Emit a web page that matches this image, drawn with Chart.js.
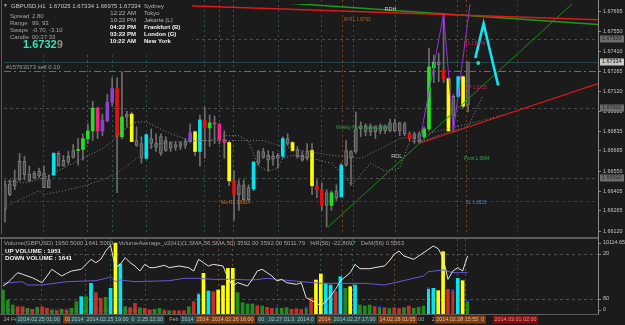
<!DOCTYPE html>
<html>
<head>
<meta charset="utf-8">
<title>GBPUSD,H1</title>
<script src="https://cdn.jsdelivr.net/npm/chart.js@4.4.1/dist/chart.umd.min.js"></script>
<style>
  html, body { margin: 0; padding: 0; background: #1b1b1b; }
  body { width: 625px; height: 325px; position: relative; overflow: hidden; }
  #priceChart { position: absolute; left: 0; top: 0; }
  #volChart { position: absolute; left: 0; top: 237px; }
</style>
</head>
<body>
<canvas id="priceChart" width="625" height="237"></canvas>
<canvas id="volChart" width="625" height="88"></canvas>
<script>
/* ======================
   PRICE DATA (GBPUSD H1)
====================== */
const openP = [1.66275,1.66381,1.66445,1.66487,1.66621,1.66529,1.66501,1.66515,1.66536,1.66431,
  1.66522,1.66586,1.66586,1.66614,1.66649,1.66698,1.66705,1.66783,1.66839,1.67002,
  1.66839,1.66910,1.67044,1.67143,1.66797,1.66938,1.66959,1.66769,1.66748,1.66642,
  1.66783,1.66720,1.66797,1.66698,1.66748,1.66720,1.66748,1.66734,1.66762,1.66691,
  1.66691,1.66917,1.66860,1.66896,1.66889,1.66776,1.66755,1.66480,1.66381,1.66452,
  1.66346,1.66423,1.66607,1.66691,1.66663,1.66635,1.66642,1.66656,1.66783,1.66755,
  1.66705,1.66663,1.66642,1.66698,1.66445,1.66416,1.66304,1.66304,1.66360,1.66367,
  1.66593,1.66691,1.66691,1.66853,1.66875,1.66832,1.66868,1.66839,1.66868,1.66839,
  1.66896,1.66839,1.66889,1.66818,1.66783,1.66818,1.66797,1.66853,1.67291,1.67333,
  1.67277,1.67213,1.66945,1.67086,1.67016,1.67025];
const highP = [1.66480,1.66487,1.66557,1.66677,1.66656,1.66586,1.66550,1.66572,1.66586,1.66522,
  1.66684,1.66691,1.66663,1.66691,1.66741,1.66783,1.66818,1.66889,1.67051,1.67009,
  1.66959,1.67100,1.67220,1.67220,1.67262,1.66980,1.66973,1.66868,1.66797,1.66818,
  1.66853,1.66818,1.66818,1.66797,1.66762,1.66762,1.66762,1.66783,1.66889,1.66839,
  1.66952,1.67009,1.66952,1.66945,1.66889,1.66839,1.66762,1.66550,1.66487,1.66487,
  1.66452,1.66621,1.66698,1.66713,1.66698,1.66691,1.66677,1.66797,1.66818,1.66762,
  1.66727,1.66691,1.66748,1.66748,1.66487,1.66466,1.66416,1.66409,1.66452,1.66607,
  1.66769,1.66698,1.66973,1.66903,1.66889,1.66889,1.66875,1.66889,1.66882,1.66924,
  1.66924,1.66903,1.66903,1.66832,1.66832,1.66832,1.66868,1.67432,1.67382,1.67396,
  1.67678,1.67220,1.67100,1.67227,1.67234,1.67334];
const lowP = [1.66184,1.66374,1.66416,1.66480,1.66487,1.66473,1.66494,1.66501,1.66431,1.66431,
  1.66515,1.66586,1.66586,1.66600,1.66642,1.66593,1.66628,1.66748,1.66769,1.66783,
  1.66804,1.66903,1.67016,1.66395,1.66783,1.66868,1.66762,1.66727,1.66607,1.66635,
  1.66713,1.66691,1.66663,1.66691,1.66691,1.66698,1.66705,1.66713,1.66755,1.66663,
  1.66586,1.66642,1.66727,1.66748,1.66748,1.66642,1.66445,1.66198,1.66268,1.66339,
  1.66339,1.66409,1.66593,1.66642,1.66550,1.66593,1.66572,1.66642,1.66734,1.66691,
  1.66642,1.66621,1.66628,1.66381,1.66360,1.66268,1.66149,1.66268,1.66339,1.66360,
  1.66586,1.66452,1.66677,1.66797,1.66804,1.66804,1.66783,1.66818,1.66818,1.66832,
  1.66832,1.66804,1.66804,1.66769,1.66748,1.66748,1.66783,1.66839,1.67185,1.67192,
  1.67185,1.66832,1.66832,1.67079,1.67002,1.66975];
const closeP = [1.66452,1.66459,1.66487,1.66621,1.66522,1.66480,1.66536,1.66550,1.66431,1.66487,
  1.66677,1.66677,1.66628,1.66656,1.66698,1.66705,1.66783,1.66839,1.67002,1.66839,
  1.66917,1.67044,1.67143,1.66797,1.66938,1.66959,1.66762,1.66734,1.66642,1.66811,
  1.66748,1.66748,1.66677,1.66769,1.66713,1.66741,1.66727,1.66762,1.66825,1.66832,
  1.66917,1.66860,1.66896,1.66889,1.66776,1.66755,1.66480,1.66381,1.66452,1.66346,
  1.66431,1.66614,1.66691,1.66649,1.66628,1.66656,1.66663,1.66783,1.66748,1.66698,
  1.66656,1.66628,1.66691,1.66445,1.66416,1.66304,1.66395,1.66395,1.66409,1.66593,
  1.66698,1.66642,1.66853,1.66875,1.66832,1.66868,1.66832,1.66875,1.66839,1.66896,
  1.66839,1.66896,1.66818,1.66783,1.66818,1.66762,1.66853,1.67298,1.67333,1.67312,
  1.67213,1.66839,1.67086,1.67227,1.67227,1.67334];
// n plain, c cyan, y yellow, g green, m magenta, p purple, r red
const candleTone = ["n","n","n","n","n","n","n","n","n","n",
  "c","n","n","n","n","g","g","g","g","m",
  "p","p","p","r","g","n","y","n","n","c",
  "n","n","n","n","n","n","n","n","p","y",
  "c","r","g","m","m","m","y","r","n","n",
  "n","c","n","n","n","n","n","c","n","y",
  "n","n","n","y","r","r","n","g","n","c",
  "n","n","n","n","n","n","n","n","n","n",
  "n","n","n","r","n","n","g","g","g","n",
  "r","y","n","c","y","n"];

const priceTicks = [1.66120,1.66265,1.66405,1.66550,1.66695,1.66835,1.66980,1.67120,1.67265,1.67410,1.67550,1.67695];
const roundLevels = [1.67500, 1.67000, 1.66500];
const bidPrice = 1.67334;
const sellOrderPrice = 1.67270;
const monthlyR1 = 1.66339;

// moving averages (bar index, price)
const fastMaX = [0,4,8,14,20,22,24,27,29,31,34,38,42,45,48,50,52,54,56,57,59,63,67,70,71,75,78,81,83,86,91,95,98];
const fastMaY = [1.66480,1.66466,1.66501,1.66607,1.66713,1.66762,1.66839,1.66903,1.66903,1.66868,1.66818,1.66769,1.66769,1.66804,1.66804,1.66762,1.66586,1.66550,1.66572,1.66642,1.66663,1.66642,1.66607,1.66501,1.66445,1.66607,1.66550,1.66572,1.66762,1.66769,1.66832,1.66868,1.67086];
const slowMaX = [1,7,8,13,17,20,23,27,31,40,53,57,61,67,73,78,81,85,95,103];
const slowMaY = [1.66311,1.66409,1.66381,1.66416,1.66452,1.66487,1.66536,1.66642,1.66748,1.66769,1.66769,1.66727,1.66698,1.66663,1.66642,1.66727,1.66783,1.66804,1.66889,1.66959];

// drawn objects (bar index, price)
const redTopX = [0, 121.7], redTopY = [1.67781, 1.67636];
const greenTopX = [52, 121.7], greenTopY = [1.67770, 1.67601];
const greenRiseX = [66.3, 117], greenRiseY = [1.66149, 1.67770];
const redRiseX = [84.9, 121.7], redRiseY = [1.66748, 1.67178];
const zigzagX = [85, 90, 92, 96], zigzagY = [1.66748, 1.67678, 1.66832, 1.67903];
const projX = [96.5, 98.2, 101.2], projY = [1.67361, 1.67608, 1.67164];
const projDotX = [97.1], projDotY = [1.67326];

/* ======================
   VOLUME PANEL DATA
====================== */
const volumes = [3420,1995,1283,1045,1045,808,665,950,1045,808,
  570,475,665,570,808,1758,2470,2470,4370,3040,
  2233,2375,3658,10114,7125,1045,903,1520,903,808,
  570,665,808,570,475,475,475,475,1045,1758,
  3040,5795,3278,3183,3420,4038,6508,6508,3040,1615,
  1425,1425,1188,1140,950,808,1045,808,903,665,
  760,665,1045,2328,4845,5700,4370,4133,3183,5320,
  3658,3895,4133,1283,1140,1283,1045,1140,903,808,
  903,808,903,1140,808,950,1140,3800,3658,3325,
  8883,3515,3515,5083,4750,1951];
const volumeTone = ["g","g","g","r","r","g","r","g","r","r",
  "g","r","g","r","g","g","c","g","c","r",
  "r","g","c","y","c","g","r","r","g","r",
  "r","g","g","r","g","r","r","r","g","r",
  "c","y","c","r","y","y","y","y","g","g",
  "g","g","r","g","r","r","g","g","g","r",
  "r","r","g","r","y","y","c","c","r","c",
  "g","y","c","g","g","g","r","g","r","g",
  "r","r","g","r","g","g","g","c","c","y",
  "y","r","r","c","y","g"];
const cappedBars = [40, 56, 62, 77, 87, 92, 95];
const wprX = [0,1,3,4,6,8,10,11,12,13,14,16,17,18,19,20,21,22,23,24,25,26,27,28,29,30,31,33,34,36,38,39,40,41,42,43,45,46,47,48,50,51,52,53,55,56,57,58,60,61,62,64,65,66,67,68,69,71,72,73,75,76,78,79,80,81,82,84,85,87,88,89,90,91,92,93,94,95];
const wprY = [-62.7,-58.2,-44.9,-47.1,-51.6,-58.2,-40.4,-44.9,-49.3,-45.8,-42.7,-40.4,-33.8,-27.1,-31.6,-27.1,-16.0,-8.4,-38.2,-33.8,-24.9,-31.6,-36.0,-42.7,-33.8,-38.2,-38.2,-35.1,-38.2,-36.0,-38.2,-42.7,-27.1,-31.6,-36.0,-33.8,-36.0,-51.6,-62.7,-58.2,-62.7,-53.8,-42.7,-40.4,-49.3,-56.0,-53.8,-58.2,-60.4,-58.2,-78.2,-84.9,-89.3,-82.7,-76.0,-67.1,-56.0,-44.9,-33.8,-39.6,-39.6,-38.2,-36.0,-29.3,-20.4,-16.0,-22.7,-27.1,-22.7,-13.8,-9.3,-12.9,-24.9,-53.8,-42.7,-38.2,-42.7,-22.8];
const volAvgX = [0,4,5,8,13,19,21,22,23,24,27,34,37,40,43,47,51,54,56,61,65,74,78,81,86,87,90,92,95];
const volAvgY = [4370,4608,4133,4133,4608,4750,5083,5320,4608,4845,4608,4750,5083,5083,4940,4940,4845,5083,4940,4608,4370,4370,4133,4608,5415,6033,6270,5890,5890];

// period separators (bar index)
const sessionTeal = [7.8, 21.9, 29, 40.9, 56, 64.8, 71.4];
const sessionOrange = [16.8, 44, 46.8, 69.1, 80, 92.8, 94.5];
const sessionRed = [105.1];

const timeLabels = [
  { at: -0.2, text: "24 Feb", kind: "plain" },
  { at: 2.7, text: "2014.02.25 01:00", kind: "teal" },
  { at: 12.3, text: "01", kind: "orange" },
  { at: 13.7, text: "2014  2014.02.25 19:00  0  2.25 22:30", kind: "teal" },
  { at: 33.7, text: "Feb", kind: "plain" },
  { at: 36.2, text: "2014", kind: "teal" },
  { at: 39.3, text: "2014  2014.02.26 16:00", kind: "orange" },
  { at: 51.9, text: "00  .02.27 01:3  2014.0", kind: "teal" },
  { at: 64.2, text: "2014", kind: "orange" },
  { at: 67.3, text: "2014.02.27 17:00", kind: "teal" },
  { at: 76.7, text: "14.02.28 01:05", kind: "orange" },
  { at: 84.3, text: ":00", kind: "plain" },
  { at: 87.4, text: "2", kind: "plain" },
  { at: 88.3, text: "2014.02.28 15:55  0", kind: "orange" },
  { at: 100.2, text: "2014.03.01 02:00", kind: "red" }
];

const chartNotes = [
  { at: 79.1, price: 1.67707, text: "RDH", color: "#c8c8c8", align: "center", size: 5.5 },
  { at: 69.5, price: 1.67636, text: "W R1 1.6763", color: "#b8602a", align: "left", size: 4.6 },
  { at: 94.2, price: 1.67467, text: "R1 1.6746", color: "#d8205a", align: "left", size: 4.6 },
  { at: 94.5, price: 1.67150, text: "PP 1.6715", color: "#d8205a", align: "left", size: 4.6 },
  { at: 67.9, price: 1.66860, text: "Weekly Pivot Point 1.6686", color: "#2ea050", align: "left", size: 4.6 },
  { at: 80.4, price: 1.66656, text: "RDL", color: "#c8c8c8", align: "center", size: 5.5 },
  { at: 94.2, price: 1.66642, text: "Pivot 1.6664", color: "#2ea858", align: "left", size: 4.6 },
  { at: 94.5, price: 1.66325, text: "S1 1.6633", color: "#4a86c8", align: "left", size: 4.6 },
  { at: 44.4, price: 1.66325, text: "Mo R1 1.6634", color: "#d8701e", align: "left", size: 4.6 }
];

/* ======================
   STYLE
====================== */
const FONT = "'Liberation Sans', Arial, sans-serif";
Chart.defaults.font.family = FONT;
Chart.defaults.font.size = 6;

const BG = "#1b1b1b";
const toneFill = { n: "#4e4e4e", c: "#00e6f0", y: "#ffff00", g: "#1ee41e", m: "#f0228a", p: "#8844cc", r: "#e01212" };
const volFill = { g: "#1f8a1f", r: "#c4302a", c: "#00e6f0", y: "#ffff00" };
const boxStyle = {
  teal: { bg: "#2a4a4c", fg: "#a0c0c0" },
  orange: { bg: "#7c3e18", fg: "#e8b890" },
  red: { bg: "#820e0e", fg: "#e89494" },
  plain: { bg: null, fg: "#a8a8a8" }
};

const xMin = -0.2, xMax = 121.68;
const priceMin = 1.66106, priceMax = 1.67749;
const volMax = 10690;

const font = (size, bold) => (bold ? "bold " : "") + size + "px " + FONT;
const pts = (xs, ys) => xs.map((x, k) => ({ x: x, y: ys[k] }));
const barIdx = openP.map((_, i) => i);

function text(ctx, str, x, y, color, f, align) {
  ctx.font = f;
  ctx.fillStyle = color;
  ctx.textAlign = align || "left";
  ctx.textBaseline = "middle";
  ctx.fillText(str, x, y);
}

function vlines(ctx, xs, list, color, top, bottom) {
  ctx.strokeStyle = color;
  ctx.setLineDash([2, 3]);
  list.forEach(v => {
    const px = Math.round(xs.getPixelForValue(v)) + 0.5;
    ctx.beginPath(); ctx.moveTo(px, top); ctx.lineTo(px, bottom); ctx.stroke();
  });
}

/* ======================
   PRICE CHART DECOR
====================== */
const priceDecor = {
  id: "priceDecor",
  beforeDatasetsDraw(chart) {
    const { ctx, chartArea: a, scales: { x, y } } = chart;
    ctx.save();
    ctx.lineWidth = 1;
    vlines(ctx, x, sessionTeal, "#2c5052", 0, a.bottom);
    vlines(ctx, x, sessionOrange, "#7a4422", 0, a.bottom);
    vlines(ctx, x, sessionRed, "#801c1c", 0, a.bottom);

    const hline = (v, color, dash) => {
      const py = Math.round(y.getPixelForValue(v)) + 0.5;
      ctx.strokeStyle = color; ctx.setLineDash(dash);
      ctx.beginPath(); ctx.moveTo(a.left, py); ctx.lineTo(a.right, py); ctx.stroke();
    };
    roundLevels.forEach(v => hline(v, "#4a4a4a", [3, 3]));
    hline(monthlyR1, "#7a2222", [3, 3]);
    hline(sellOrderPrice, "#6a6a6a", [7, 3, 2, 3]);
    hline(bidPrice, "#26474a", []);

    ctx.setLineDash([]);
    ctx.strokeStyle = "#5a5a5a";
    ctx.beginPath(); ctx.moveTo(1.5, 0); ctx.lineTo(1.5, a.bottom + 1); ctx.stroke();
    ctx.restore();
  },
  afterDatasetsDraw(chart) {
    const { ctx, scales: { x, y } } = chart;
    ctx.save();
    chartNotes.forEach(n => {
      text(ctx, n.text, x.getPixelForValue(n.at), y.getPixelForValue(n.price), n.color, font(n.size), n.align);
    });

    // info panel
    ctx.fillStyle = BG;
    ctx.fillRect(2, 0, 190, 52);
    text(ctx, "\u25BC", 3, 6, "#b0b0b0", font(5));
    text(ctx, "GBPUSD,H1  1.67025 1.67334 1.66975 1.67334", 11, 6, "#c8c8c8", font(6));
    const info = [["Spread", "2.80"], ["Range", "99, 93"], ["Swaps", "-0.70, -3.10"], ["Candle", "00:37:33"]];
    info.forEach((r, k) => {
      text(ctx, r[0], 10, 16 + k * 7, "#a4a4a4", font(6));
      text(ctx, r[1], 32, 16 + k * 7, "#a4a4a4", font(6));
    });
    ctx.font = font(11, true);
    const w = ctx.measureText("1.6732").width;
    text(ctx, "1.6732", 23, 45, "#2fe6b2", font(11, true));
    text(ctx, "9", 23 + w, 45, "#8c8c8c", font(11, true));

    const zones = [
      ["", "Sydney", false], ["12:22 AM", "Tokyo", false], ["10:22 PM", "Jakarta (L)", false],
      ["04:22 PM", "Frankfurt (B)", true], ["03:22 PM", "London (G)", true], ["10:22 AM", "New York", true]
    ];
    zones.forEach((z, k) => {
      const yy = 6.5 + k * 6.9;
      const col = z[2] ? "#f2f2f2" : "#b4b4b4";
      if (z[0]) text(ctx, z[0], 136, yy, col, font(6, z[2]), "right");
      text(ctx, z[1], 144, yy, col, font(6, z[2]));
    });

    text(ctx, "#15763073 sell 0.10", 6, 67.5, "#9c9c9c", font(6));
    ctx.restore();
  },
  afterDraw(chart) {
    const { ctx, chartArea: a, scales: { y } } = chart;
    ctx.save();
    ctx.strokeStyle = "#8a8a8a";
    ctx.beginPath(); ctx.moveTo(a.right + 0.5, 0); ctx.lineTo(a.right + 0.5, 237); ctx.stroke();
    const tag = (v, bg, fg) => {
      const py = Math.round(y.getPixelForValue(v));
      ctx.fillStyle = bg;
      ctx.fillRect(a.right + 2, py - 3.5, 24, 7);
      text(ctx, v.toFixed(5), a.right + 4, py, fg, font(5.4));
    };
    roundLevels.forEach(v => tag(v, "#6c6c6c", "#262626"));
    tag(bidPrice, "#c8c8c8", "#111111");
    ctx.restore();
  }
};

new Chart(document.getElementById("priceChart"), {
  type: "bar",
  data: {
    datasets: [
      {
        label: "wicks",
        data: barIdx.map(i => ({ x: i, y: [lowP[i], highP[i]] })),
        backgroundColor: "#6e6e6e",
        barThickness: 1,
        grouped: false,
        order: 9
      },
      {
        label: "bodies",
        data: barIdx.map(i => ({ x: i, y: [openP[i], closeP[i]] })),
        backgroundColor: c => toneFill[candleTone[c.dataIndex] || "n"],
        borderColor: c => (candleTone[c.dataIndex] || "n") === "n" ? "#7e7e7e" : toneFill[candleTone[c.dataIndex]],
        borderWidth: c => (candleTone[c.dataIndex] || "n") === "n" ? 1 : 0,
        borderSkipped: false,
        barThickness: 3,
        minBarLength: 1,
        grouped: false,
        order: 8
      },
      { type: "line", label: "slow MA", data: pts(slowMaX, slowMaY), borderColor: "#7c7c7c", borderWidth: 1, borderDash: [1, 2], pointRadius: 0, order: 7 },
      { type: "line", label: "fast MA", data: pts(fastMaX, fastMaY), borderColor: "#8a8a8a", borderWidth: 1, borderDash: [1, 2], pointRadius: 0, order: 7 },
      { type: "line", label: "green top", data: pts(greenTopX, greenTopY), borderColor: "#1c9a1c", borderWidth: 1.5, pointRadius: 0, order: 3 },
      { type: "line", label: "red top", data: pts(redTopX, redTopY), borderColor: "#e01818", borderWidth: 1.5, pointRadius: 0, order: 2 },
      { type: "line", label: "green rise", data: pts(greenRiseX, greenRiseY), borderColor: "#1a8a1a", borderWidth: 1, pointRadius: 0, order: 3 },
      { type: "line", label: "red rise", data: pts(redRiseX, redRiseY), borderColor: "#e01818", borderWidth: 1.2, pointRadius: 0, order: 2 },
      { type: "line", label: "zigzag", data: pts(zigzagX, zigzagY), borderColor: "#9a2ee0", borderWidth: 1, pointRadius: 0, order: 1 },
      { type: "line", label: "projection", data: pts(projX, projY), borderColor: "#14e4f0", borderWidth: 2.6, pointRadius: 0, order: 1 },
      { type: "line", label: "dot", data: pts(projDotX, projDotY), showLine: false, pointRadius: 2, pointBackgroundColor: "#22d8a8", pointBorderWidth: 0, order: 1 }
    ]
  },
  options: {
    responsive: false,
    animation: false,
    events: [],
    layout: { padding: { left: 2, right: 0, top: 3, bottom: 1 } },
    plugins: { legend: { display: false }, tooltip: { enabled: false } },
    scales: {
      x: { type: "linear", min: xMin, max: xMax, offset: false, display: false },
      y: {
        position: "right",
        min: priceMin,
        max: priceMax,
        beginAtZero: false,
        afterBuildTicks: s => { s.ticks = priceTicks.map(v => ({ value: v })); },
        afterFit: s => { s.width = 27; s.paddingTop = 0; s.paddingBottom = 0; },
        ticks: { color: "#c4c4c4", font: { size: 5.4 }, padding: 2, autoSkip: false, callback: v => Number(v).toFixed(5) },
        grid: { drawOnChartArea: false, drawTicks: true, tickLength: 3, color: "#8a8a8a" },
        border: { color: "#8a8a8a" }
      }
    }
  },
  plugins: [priceDecor]
});

/* ======================
   VOLUME PANEL DECOR
====================== */
const volDecor = {
  id: "volDecor",
  beforeDatasetsDraw(chart) {
    const { ctx, chartArea: a, scales: { x, yr } } = chart;
    ctx.save();
    ctx.fillStyle = "#5c5c5c";
    ctx.fillRect(0, 0, a.right, 2);
    ctx.lineWidth = 1;
    vlines(ctx, x, sessionTeal, "#2c5052", 2, a.bottom);
    vlines(ctx, x, sessionOrange, "#7a4422", 2, a.bottom);
    vlines(ctx, x, sessionRed, "#801c1c", 2, a.bottom);
    ctx.strokeStyle = "#4e4e4e";
    ctx.setLineDash([3, 3]);
    [-20, -80].forEach(v => {
      const py = Math.round(yr.getPixelForValue(v)) + 0.5;
      ctx.beginPath(); ctx.moveTo(a.left, py); ctx.lineTo(a.right, py); ctx.stroke();
    });
    ctx.setLineDash([]);
    ctx.strokeStyle = "#5a5a5a";
    ctx.beginPath(); ctx.moveTo(1.5, 2); ctx.lineTo(1.5, a.bottom); ctx.stroke();
    ctx.restore();
  },
  afterDatasetsDraw(chart) {
    const { ctx, chartArea: a, scales: { x, yv, yr } } = chart;
    ctx.save();
    // frame
    ctx.strokeStyle = "#8a8a8a";
    ctx.beginPath(); ctx.moveTo(a.right + 0.5, 0); ctx.lineTo(a.right + 0.5, a.bottom + 0.5); ctx.stroke();
    ctx.strokeStyle = "#5c5c5c";
    ctx.beginPath(); ctx.moveTo(0, a.bottom + 0.5); ctx.lineTo(a.right, a.bottom + 0.5); ctx.stroke();

    // right scale labels
    const tick = (py, label) => {
      ctx.strokeStyle = "#8a8a8a";
      ctx.beginPath(); ctx.moveTo(a.right, py + 0.5); ctx.lineTo(a.right + 3, py + 0.5); ctx.stroke();
      text(ctx, label, a.right + 5, py, "#c4c4c4", font(5.4));
    };
    tick(Math.round(yv.getPixelForValue(10114.65)), "10114.65");
    tick(Math.round(yr.getPixelForValue(-20)), "20");
    tick(Math.round(yr.getPixelForValue(-80)), "80");
    tick(Math.round(yv.getPixelForValue(0)) - 4, "0");

    // headers
    text(ctx, "Volume(GBPUSD) 1950.5000 1641.5000   VolumeAverage_v2(H1)(1,SMA,56,SMA,50) 3592.00 3592.00 5011.79   %R(56) -22.8097   DeM(56) 0.5563",
      4, 6.5, "#a4a4a4", font(6));
    text(ctx, "UP VOLUME : 1951", 5, 14.5, "#f4f4f4", font(6.2, true));
    text(ctx, "DOWN VOLUME : 1641", 5, 21.5, "#f4f4f4", font(6.2, true));
    text(ctx, "MetaTrader 4  \u00A9 2001-2013, MetaQuotes Software Corp.", 4, 73, "rgba(150,150,150,0.28)", font(6));

    // time axis
    ctx.font = font(5.4);
    timeLabels.forEach(t => {
      const st = boxStyle[t.kind];
      const px = x.getPixelForValue(t.at);
      const tw = ctx.measureText(t.text).width;
      if (st.bg) {
        ctx.fillStyle = st.bg;
        ctx.fillRect(px, 78.5, tw + 3, 8);
      }
      text(ctx, t.text, px + 1.5, 82.5, st.fg, font(5.4));
    });
    ctx.restore();
  }
};

new Chart(document.getElementById("volChart"), {
  type: "bar",
  data: {
    datasets: [
      {
        label: "volume",
        data: volumes.map((v, i) => ({ x: i, y: v })),
        yAxisID: "yv",
        backgroundColor: c => volFill[volumeTone[c.dataIndex] || "g"],
        borderColor: "#1c2ce8",
        borderWidth: c => cappedBars.includes(c.dataIndex) ? { top: 2, left: 0, right: 0, bottom: 0 } : 0,
        borderSkipped: "start",
        barThickness: 3,
        grouped: false,
        order: 5
      },
      { type: "line", label: "volume average", data: pts(volAvgX, volAvgY), yAxisID: "yv", borderColor: "#6a5ad8", borderWidth: 1, pointRadius: 0, order: 2 },
      { type: "line", label: "%R(56)", data: pts(wprX, wprY), yAxisID: "yr", borderColor: "#e4e4e4", borderWidth: 1, pointRadius: 0, order: 1 }
    ]
  },
  options: {
    responsive: false,
    animation: false,
    events: [],
    layout: { padding: { left: 2, right: 27, top: 2, bottom: 11 } },
    plugins: { legend: { display: false }, tooltip: { enabled: false } },
    scales: {
      x: { type: "linear", min: xMin, max: xMax, offset: false, display: false },
      yv: { position: "right", min: 0, max: volMax, display: false },
      yr: { position: "right", min: -100, max: 0, display: false }
    }
  },
  plugins: [volDecor]
});
</script>
</body>
</html>
